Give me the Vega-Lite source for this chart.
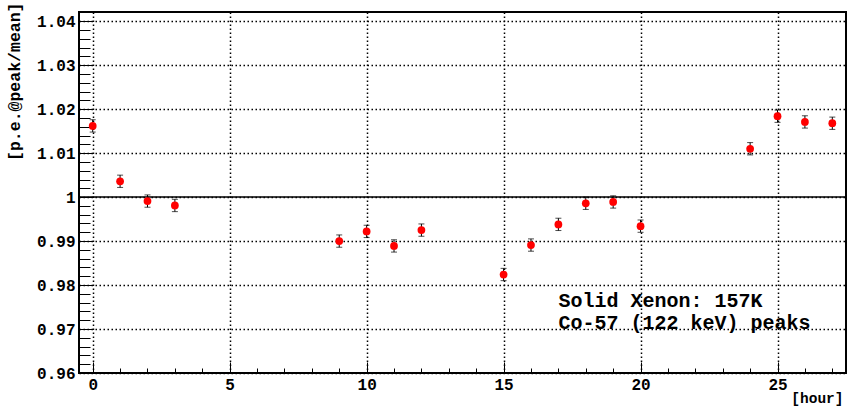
{
  "$schema": "https://vega.github.io/schema/vega-lite/v6.json",
  "width": 767,
  "height": 361,
  "autosize": "none",
  "padding": {"left": 79, "top": 12, "right": 3, "bottom": 39},
  "background": "white",
  "config": {
    "view": {"stroke": "black", "strokeWidth": 2},
    "font": "Liberation Mono",
    "axis": {
      "domain": false,
      "labelFont": "Liberation Mono",
      "labelFontWeight": "bold",
      "labelFontSize": 16,
      "labelColor": "black",
      "titleFont": "Liberation Mono",
      "titleFontWeight": "bold",
      "titleColor": "black",
      "tickColor": "black",
      "tickWidth": 1,
      "gridColor": "black",
      "gridDash": [1.5, 2.5],
      "gridWidth": 1.5,
      "gridOpacity": 1
    }
  },
  "datasets": {
    "pts": [
      {"hour": 0, "ratio": 1.0162, "lo": 1.0148, "hi": 1.0176},
      {"hour": 1, "ratio": 1.0036, "lo": 1.0022, "hi": 1.0050},
      {"hour": 2, "ratio": 0.9991, "lo": 0.9977, "hi": 1.0005},
      {"hour": 3, "ratio": 0.9981, "lo": 0.9967, "hi": 0.9995},
      {"hour": 9, "ratio": 0.9900, "lo": 0.9886, "hi": 0.9914},
      {"hour": 10, "ratio": 0.9922, "lo": 0.9908, "hi": 0.9936},
      {"hour": 11, "ratio": 0.9889, "lo": 0.9875, "hi": 0.9903},
      {"hour": 12, "ratio": 0.9925, "lo": 0.9911, "hi": 0.9939},
      {"hour": 15, "ratio": 0.9824, "lo": 0.9810, "hi": 0.9838},
      {"hour": 16, "ratio": 0.9891, "lo": 0.9877, "hi": 0.9905},
      {"hour": 17, "ratio": 0.9938, "lo": 0.9924, "hi": 0.9952},
      {"hour": 18, "ratio": 0.9986, "lo": 0.9972, "hi": 1.0000},
      {"hour": 19, "ratio": 0.9989, "lo": 0.9975, "hi": 1.0003},
      {"hour": 20, "ratio": 0.9934, "lo": 0.9920, "hi": 0.9948},
      {"hour": 24, "ratio": 1.0110, "lo": 1.0096, "hi": 1.0124},
      {"hour": 25, "ratio": 1.0184, "lo": 1.0170, "hi": 1.0198},
      {"hour": 26, "ratio": 1.0171, "lo": 1.0157, "hi": 1.0185},
      {"hour": 27, "ratio": 1.0168, "lo": 1.0154, "hi": 1.0182}
    ],
    "txt": [
      {"x": 17, "y": 0.9763, "label": "Solid Xenon: 157K"},
      {"x": 17, "y": 0.97134, "label": "Co-57 (122 keV) peaks"}
    ]
  },
  "resolve": {"axis": {"x": "independent", "y": "independent"}},
  "layer": [
    {
      "data": {"name": "pts"},
      "mark": {"type": "tick", "color": "black", "size": 6, "thickness": 1, "orient": "horizontal"},
      "encoding": {
        "x": {
          "field": "hour", "type": "quantitative",
          "scale": {"domain": [-0.5, 27.5], "nice": false, "zero": false},
          "axis": {"orient": "bottom", "values": [0,5,10,15,20,25], "labels": false, "ticks": false, "grid": true, "title": "[hour]", "titleFontSize": 14.5, "titleAnchor": "end", "titleAlign": "right", "titleBaseline": "middle", "titleX": 764, "titleY": 25}
        },
        "y": {
          "field": "lo", "type": "quantitative",
          "scale": {"domain": [0.96, 1.0421], "nice": false, "zero": false},
          "axis": {"orient": "left", "values": [0.96,0.97,0.98,0.99,1,1.01,1.02,1.03,1.04], "labels": false, "ticks": false, "grid": true, "title": "[p.e.@peak/mean]", "titleFontSize": 16.5, "titleAngle": -90, "titleAnchor": "end", "titleAlign": "right", "titleBaseline": "middle", "titleX": -65, "titleY": -10}
        }
      }
    },
    {
      "data": {"name": "pts"},
      "mark": {"type": "rule", "color": "black", "strokeWidth": 1},
      "encoding": {
        "x": {
          "field": "hour", "type": "quantitative",
          "axis": {"orient": "bottom", "values": [1,2,3,4,6,7,8,9,11,12,13,14,16,17,18,19,21,22,23,24,26,27], "labels": false, "grid": false, "tickSize": 5, "offset": -5, "title": null}
        },
        "y": {
          "field": "lo", "type": "quantitative",
          "axis": {"orient": "left", "values": [0.962,0.964,0.966,0.968,0.972,0.974,0.976,0.978,0.982,0.984,0.986,0.988,0.992,0.994,0.996,0.998,1.002,1.004,1.006,1.008,1.012,1.014,1.016,1.018,1.022,1.024,1.026,1.028,1.032,1.034,1.036,1.038,1.042], "labels": false, "grid": false, "tickSize": 11, "offset": -11, "title": null}
        },
        "y2": {"field": "hi"}
      }
    },
    {
      "data": {"name": "pts"},
      "mark": {"type": "tick", "color": "black", "size": 6, "thickness": 1, "orient": "horizontal"},
      "encoding": {
        "x": {"field": "hour", "type": "quantitative", "axis": null},
        "y": {"field": "hi", "type": "quantitative", "axis": null}
      }
    },
    {
      "data": {"values": [{}]},
      "mark": {"type": "rule", "color": "black", "strokeWidth": 1.5},
      "encoding": {
        "y": {"datum": 1, "type": "quantitative", "axis": null}
      }
    },
    {
      "data": {"name": "pts"},
      "mark": {"type": "point", "filled": true, "color": "red", "opacity": 1, "size": 60},
      "encoding": {
        "x": {
          "field": "hour", "type": "quantitative",
          "axis": {"orient": "bottom", "values": [0,5,10,15,20,25], "grid": false, "tickSize": 11, "offset": -11, "labelPadding": 3, "title": null}
        },
        "y": {
          "field": "ratio", "type": "quantitative",
          "axis": {"orient": "left", "values": [0.96,0.97,0.98,0.99,1,1.01,1.02,1.03,1.04], "format": "~g", "grid": false, "tickSize": 14, "offset": -14, "labelPadding": 4, "title": null}
        }
      }
    },
    {
      "data": {"name": "txt"},
      "mark": {"type": "text", "align": "left", "baseline": "middle", "font": "Liberation Mono", "fontWeight": "bold", "fontSize": 20, "color": "black"},
      "encoding": {
        "x": {"field": "x", "type": "quantitative", "axis": null},
        "y": {"field": "y", "type": "quantitative", "axis": null},
        "text": {"field": "label"}
      }
    }
  ]
}
